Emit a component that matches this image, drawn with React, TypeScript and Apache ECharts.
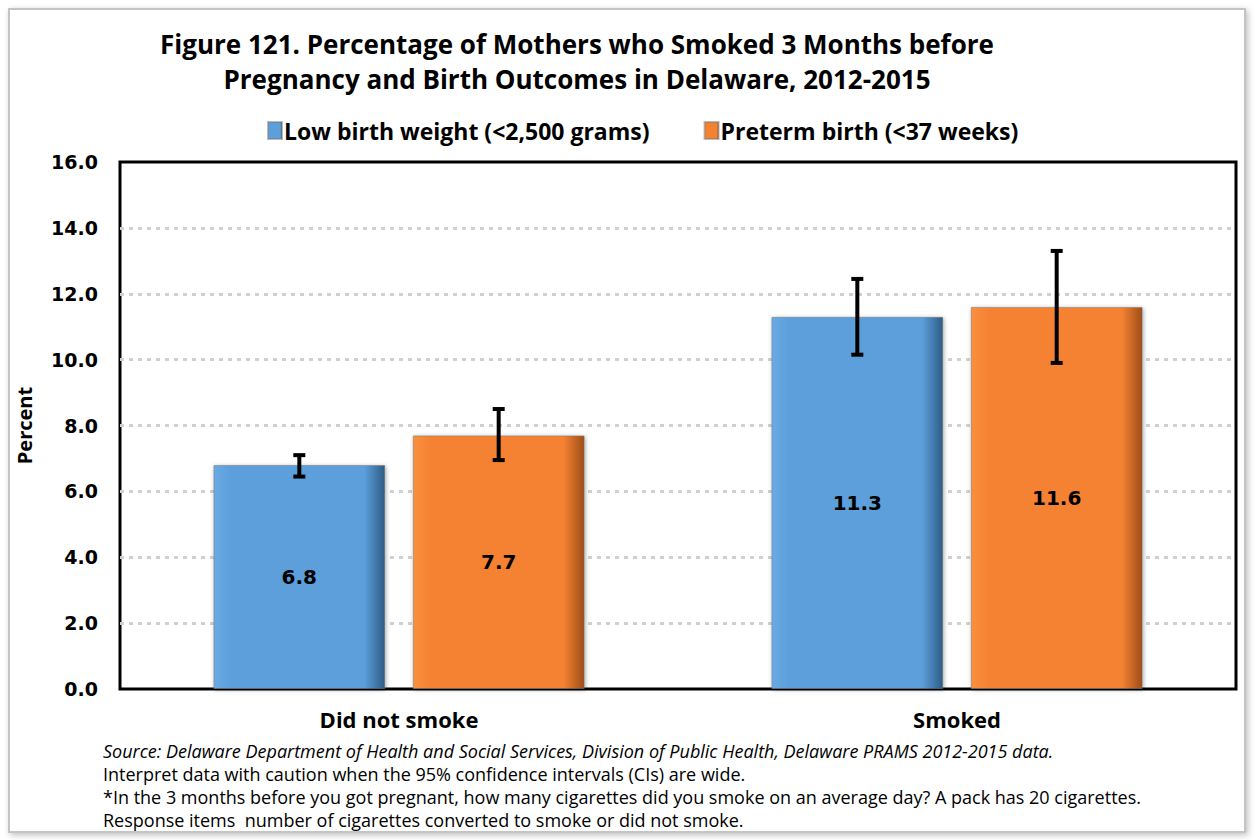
import React, { useEffect, useRef } from "react";
import * as echarts from "echarts";

const categories = ["Did not smoke", "Smoked"];
const seriesNames = ["Low birth weight (<2,500 grams)", "Preterm birth (<37 weeks)"];
const lowBirthWeight = [6.8, 11.3];
const pretermBirth = [7.7, 11.6];
const lbwLower = [6.45, 10.15];
const lbwUpper = [7.1, 12.45];
const ptbLower = [6.95, 9.9];
const ptbUpper = [8.5, 13.3];
const yTicks = [0, 2, 4, 6, 8, 10, 12, 14, 16];

const titleLines = [
  "Figure 121. Percentage of Mothers who Smoked 3 Months before",
  "Pregnancy and Birth Outcomes in Delaware, 2012-2015",
];
const footLines = [
  "Source: Delaware Department of Health and Social Services, Division of Public Health, Delaware PRAMS 2012-2015 data.",
  "Interpret data with caution when the 95% confidence intervals (CIs) are wide.",
  "*In the 3 months before you got pregnant, how many cigarettes did you smoke on an average day? A pack has 20 cigarettes.",
  "Response items  number of cigarettes converted to smoke or did not smoke.",
];

const BAR_FRAC = 0.308;
const GAP_FRAC = 0.16;
const FONT = "'Open Sans', 'DejaVu Sans', sans-serif";
const WIDE = "'DejaVu Sans', 'Open Sans', sans-serif";

function bevel(main: string, light: string, dark: string) {
  return new echarts.graphic.LinearGradient(0, 0, 1, 0, [
    { offset: 0, color: light },
    { offset: 0.1, color: main },
    { offset: 0.88, color: main },
    { offset: 1, color: dark },
  ]);
}

export default function App() {
  const ref = useRef<HTMLDivElement>(null);
  useEffect(() => {
    const chart = echarts.init(ref.current!, null, { renderer: "svg" });
    const errData = (lo: number[], hi: number[]) =>
      categories.map((_, i) => [i, lo[i], hi[i]]);
    const makeErr = (sign: number) => (params: any, api: any) => {
      const idx = api.value(0);
      const lo = api.coord([idx, api.value(1)]);
      const hi = api.coord([idx, api.value(2)]);
      const band = api.size([1, 0])[0];
      const off = sign * ((BAR_FRAC * band) * (1 + GAP_FRAC)) / 2;
      const x = lo[0] + off;
      const cap = 6;
      const style = { stroke: "#000", lineWidth: 4 };
      return {
        type: "group",
        children: [
          { type: "line", shape: { x1: x, y1: lo[1], x2: x, y2: hi[1] }, style },
          { type: "line", shape: { x1: x - cap, y1: lo[1], x2: x + cap, y2: lo[1] }, style },
          { type: "line", shape: { x1: x - cap, y1: hi[1], x2: x + cap, y2: hi[1] }, style },
        ],
      };
    };
    const labelCfg = {
      show: true,
      position: "inside",
      formatter: (p: any) => p.value.toFixed(1),
      color: "#000",
      fontWeight: "bold",
      fontSize: 20,
      fontFamily: WIDE,
    };
    chart.setOption({
      animation: false,
      backgroundColor: "#fff",
      graphic: [
        {
          type: "rect",
          shape: { x: 9, y: 9, width: 1236, height: 823 },
          style: { fill: "#fff", stroke: "#c4c4c4", lineWidth: 2, shadowBlur: 6, shadowColor: "rgba(0,0,0,0.25)", shadowOffsetX: 2, shadowOffsetY: 2 },
          z: -10,
        },
        ...titleLines.map((t, i) => ({
          type: "text",
          x: 577,
          y: 44 + i * 35,
          style: { text: t, fontSize: 26, fontWeight: "bold", fontFamily: FONT, fill: "#000", textAlign: "center", textVerticalAlign: "middle" },
        })),
        ...footLines.map((t, i) => ({
          type: "text",
          x: 103,
          y: 751 + i * 23,
          style: { text: t, fontSize: 18, fontStyle: i === 0 ? "italic" : "normal", fontFamily: FONT, fill: "#000", textAlign: "left", textVerticalAlign: "middle" },
        })),
      ],
      legend: {
        top: 114,
        left: 262,
        itemWidth: 14,
        itemHeight: 17,
        itemGap: 54,
        icon: "rect",
        textStyle: { fontSize: 23, fontWeight: "bold", fontFamily: FONT, color: "#000", padding: [0, 0, 0, -3] },
        data: seriesNames,
      },
      grid: {
        left: 120,
        right: 19,
        top: 162,
        bottom: 151,
        show: true,
        borderColor: "#000",
        borderWidth: 3,
        backgroundColor: "transparent",
      },
      xAxis: {
        type: "category",
        data: categories,
        axisLine: { show: false },
        axisTick: { show: false },
        axisLabel: { fontSize: 22, fontWeight: "bold", fontFamily: FONT, color: "#000", margin: 19 },
      },
      yAxis: {
        type: "value",
        min: yTicks[0],
        max: yTicks[yTicks.length - 1],
        interval: 2,
        name: "Percent",
        nameLocation: "middle",
        nameGap: 86,
        nameTextStyle: { fontSize: 20, fontWeight: "bold", fontFamily: FONT, color: "#000" },
        axisLine: { show: false },
        axisTick: { show: false },
        axisLabel: { fontSize: 19, fontWeight: "bold", fontFamily: WIDE, color: "#000", margin: 22, formatter: (v: number) => v.toFixed(1) },
        splitLine: { showMinLine: false, showMaxLine: false, lineStyle: { color: "#d0d0d0", type: [4, 5], width: 3 } },
      },
      series: [
        {
          name: seriesNames[0],
          type: "bar",
          data: lowBirthWeight,
          barWidth: (BAR_FRAC * 100).toFixed(1) + "%",
          barGap: (GAP_FRAC * 100) + "%",
          itemStyle: {
            color: bevel("#5B9FDB", "#6BAAE2", "#2E5C85"),
            borderColor: "rgba(120,120,120,0.5)",
            borderWidth: 1,
            shadowBlur: 4,
            shadowColor: "rgba(0,0,0,0.35)",
            shadowOffsetX: 1,
            shadowOffsetY: 1,
          },
          label: labelCfg,
          z: 2,
        },
        {
          name: seriesNames[1],
          type: "bar",
          data: pretermBirth,
          barWidth: (BAR_FRAC * 100).toFixed(1) + "%",
          barGap: (GAP_FRAC * 100) + "%",
          itemStyle: {
            color: bevel("#F58232", "#F89040", "#9E4E18"),
            borderColor: "rgba(120,120,120,0.5)",
            borderWidth: 1,
            shadowBlur: 4,
            shadowColor: "rgba(0,0,0,0.35)",
            shadowOffsetX: 1,
            shadowOffsetY: 1,
          },
          label: labelCfg,
          z: 2,
        },
        {
          type: "custom",
          renderItem: makeErr(-1),
          data: errData(lbwLower, lbwUpper),
          encode: { x: 0, y: [1, 2] },
          z: 5,
          silent: true,
        },
        {
          type: "custom",
          renderItem: makeErr(1),
          data: errData(ptbLower, ptbUpper),
          encode: { x: 0, y: [1, 2] },
          z: 5,
          silent: true,
        },
      ],
    });
    return () => chart.dispose();
  }, []);
  return (
    <div
      ref={ref}
      style={{ position: "absolute", left: 0, top: 0, width: 1255, height: 840 }}
    />
  );
}
